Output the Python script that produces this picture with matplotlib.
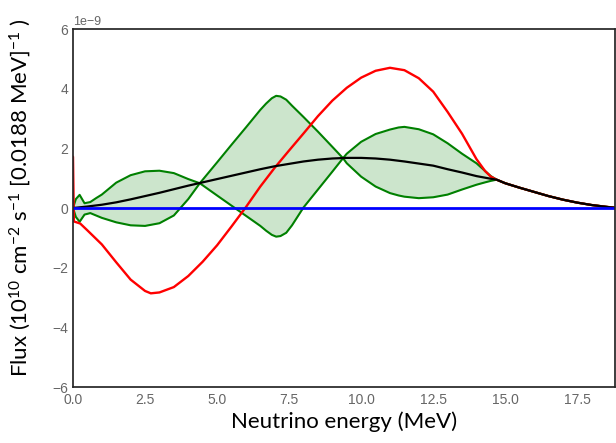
#!/usr/bin/env python3
"""
Neutrino flux spectrum with oscillation envelope.
"""
import numpy as np
import matplotlib
matplotlib.use('Agg')
import matplotlib.pyplot as plt

# values in units of 1e-9
e_black = [0.0, 0.5, 1.0, 1.5, 2.0, 2.5, 3.0, 3.5, 4.0, 4.5, 5.0, 5.5, 6.0, 6.5,
           7.0, 7.5, 8.0, 8.5, 9.0, 9.5, 10.0, 10.5, 11.0, 11.5, 12.0, 12.5,
           13.0, 13.5, 14.0, 14.5, 14.7, 15.0, 15.5, 16.0, 16.5, 17.0, 17.5,
           18.0, 18.5, 18.8]
flux_black = [0.0, 0.05, 0.11, 0.19, 0.29, 0.40, 0.51, 0.63, 0.75, 0.86, 0.97,
              1.08, 1.19, 1.30, 1.40, 1.48, 1.56, 1.62, 1.66, 1.68, 1.68, 1.66,
              1.62, 1.56, 1.49, 1.42, 1.30, 1.19, 1.07, 0.98, 0.95, 0.83, 0.68,
              0.54, 0.40, 0.28, 0.18, 0.10, 0.04, 0.01]

e_red = [0.0, 0.03, 0.25, 0.5, 1.0, 1.5, 2.0, 2.5, 2.7, 3.0, 3.5, 4.0, 4.5,
         5.0, 5.5, 6.0, 6.5, 7.0, 7.5, 8.0, 8.5, 9.0, 9.5, 10.0, 10.5, 11.0,
         11.5, 12.0, 12.5, 13.0, 13.5, 14.0, 14.3, 14.5, 14.7]
flux_red = [1.72, -0.45, -0.52, -0.75, -1.22, -1.82, -2.40, -2.78, -2.86,
            -2.83, -2.65, -2.28, -1.80, -1.25, -0.62, 0.03, 0.72, 1.35, 1.93,
            2.50, 3.08, 3.60, 4.03, 4.37, 4.60, 4.70, 4.62, 4.35, 3.90, 3.22,
            2.49, 1.64, 1.24, 1.05, 0.95]

e_green = [0.0, 0.1, 0.23, 0.4, 0.6, 0.8, 1.0, 1.5, 2.0, 2.5, 3.0, 3.5, 4.0,
           4.4, 5.0, 5.5, 6.0, 6.5, 6.7, 6.9, 7.05, 7.2, 7.4, 7.6, 8.0, 8.5,
           9.0, 9.37, 9.5, 10.0, 10.5, 11.0, 11.3, 11.5, 12.0, 12.5, 13.0,
           13.5, 14.0, 14.3, 14.5, 14.7]
flux_green_a = [0.0, 0.30, 0.44, 0.16, 0.20, 0.33, 0.45, 0.85, 1.10, 1.23,
                1.25, 1.17, 0.97, 0.83, 0.42, 0.08, -0.26, -0.60, -0.76,
                -0.90, -0.96, -0.94, -0.83, -0.58, 0.02, 0.62, 1.22, 1.67,
                1.82, 2.22, 2.48, 2.63, 2.70, 2.72, 2.64, 2.47, 2.17, 1.82,
                1.50, 1.24, 1.07, 0.95]
flux_green_b = [0.0, -0.30, -0.46, -0.22, -0.17, -0.25, -0.33, -0.48, -0.58,
                -0.60, -0.51, -0.25, 0.30, 0.83, 1.53, 2.12, 2.70, 3.29, 3.50,
                3.68, 3.76, 3.74, 3.63, 3.43, 3.05, 2.56, 2.05, 1.67, 1.50,
                1.05, 0.72, 0.50, 0.42, 0.38, 0.33, 0.36, 0.45, 0.62, 0.78,
                0.86, 0.91, 0.95]

e_blue = [0.0, 18.8]
flux_blue = [0.0, 0.0]

SCALE = 1e-9


def with_tail(e, f):
    """After ~14.7 MeV every curve lies on the black one."""
    tail = [i for i, x in enumerate(e_black) if x > e[-1]]
    e_full = list(e) + [e_black[i] for i in tail]
    f_full = list(f) + [flux_black[i] for i in tail]
    return np.array(e_full), np.array(f_full) * SCALE


def main():
    plt.style.use('seaborn-v0_8-white')
    plt.rcParams['font.family'] = ['Liberation Sans', 'DejaVu Sans']
    plt.rcParams['mathtext.fontset'] = 'custom'
    plt.rcParams['mathtext.rm'] = 'Lato'
    plt.rcParams['mathtext.it'] = 'Lato:italic'

    fig = plt.figure(figsize=(6.16, 4.43), dpi=100)
    ax = fig.add_axes([0.1185, 0.1264, 0.8795, 0.8081])

    e_r, f_r = with_tail(e_red, flux_red)
    e_g, f_ga = with_tail(e_green, flux_green_a)
    _, f_gb = with_tail(e_green, flux_green_b)
    e_k = np.array(e_black)
    f_k = np.array(flux_black) * SCALE

    ax.fill_between(e_g, f_ga, f_gb, color='green', alpha=0.2, lw=0)
    ax.plot(e_g, f_ga, color='green', lw=1.5)
    ax.plot(e_g, f_gb, color='green', lw=1.5)
    ax.plot(e_r, f_r, color='red', lw=1.7)
    ax.plot(e_k, f_k, color='black', lw=1.6)
    ax.plot(np.array(e_blue), np.array(flux_blue) * SCALE, color='#0000ff', lw=2)

    ax.set_xlim(0, 18.8)
    ax.set_ylim(-6e-9, 6e-9)
    ax.set_xticks(np.arange(0, 18, 2.5))
    ax.set_yticks(np.arange(-6, 7, 2) * SCALE)
    ax.tick_params(labelsize=10, labelcolor='0.4', length=0)
    ax.tick_params(axis='x', pad=4)
    ax.yaxis.get_offset_text().set_fontsize(9)
    ax.yaxis.get_offset_text().set_color('0.4')
    for sp in ax.spines.values():
        sp.set_color('0.15')
        sp.set_linewidth(1.25)

    fig.text(0.558, 0.047, 'Neutrino energy (MeV)', family='Lato',
             fontsize=16, color='black', ha='center', va='center')
    fig.text(0.033, 0.553,
             r'Flux (10$^{10}$ cm$^{-2}$ s$^{-1}$ [0.0188 MeV]$^{-1}$ )',
             family='Lato', fontsize=16, color='black', rotation=90,
             ha='center', va='center')

    fig.savefig('out.png', dpi=100)
    plt.close(fig)


if __name__ == '__main__':
    main()
